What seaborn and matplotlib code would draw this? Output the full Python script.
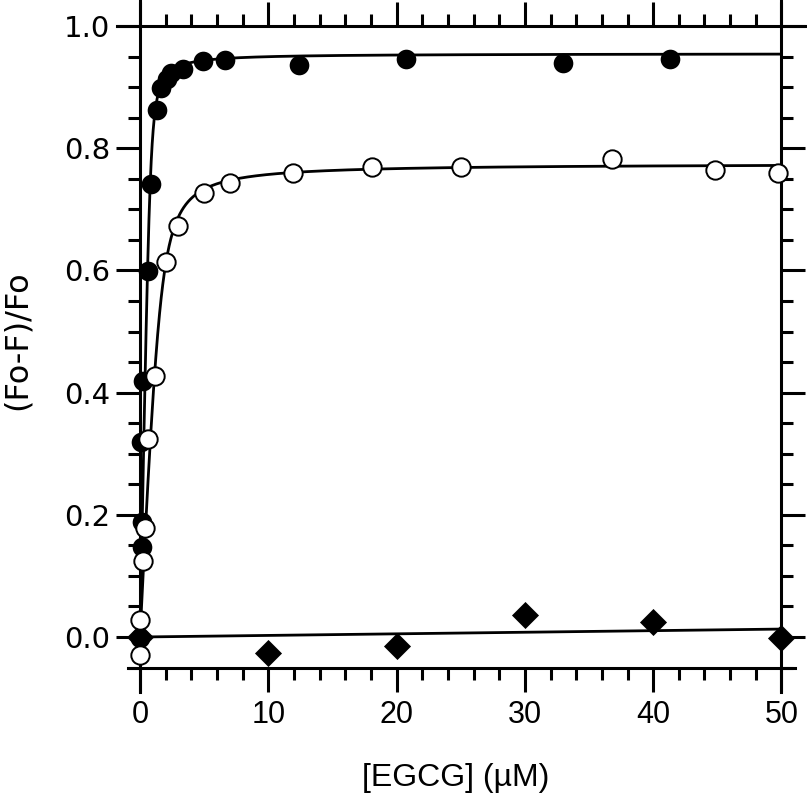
import numpy as np
import pandas as pd
import matplotlib.pyplot as plt
import seaborn as sns
from matplotlib.ticker import MultipleLocator

# data
filled_x = [0, 0.05, 0.13, 0.18, 0.26, 0.64, 0.83, 1.29, 1.63, 2.07, 2.4, 3.36,
            4.94, 6.59, 12.4, 20.7, 33.0, 41.3]
filled_y = [-0.002, 0.319, 0.189, 0.148, 0.419, 0.599, 0.742, 0.863, 0.898, 0.913,
            0.923, 0.93, 0.943, 0.945, 0.936, 0.946, 0.94, 0.946]

open_x = [0, 0, 0.26, 0.39, 0.64, 1.16, 1.99, 2.97, 4.99, 6.98, 11.94, 18.1,
          25.0, 36.8, 44.8, 49.7]
open_y = [-0.03, 0.028, 0.125, 0.178, 0.324, 0.427, 0.614, 0.673, 0.726, 0.743,
          0.760, 0.769, 0.769, 0.783, 0.764, 0.759]

diamond_x = [0, 10, 20, 30, 40, 50]
diamond_y = [0.0, -0.026, -0.015, 0.036, 0.024, -0.001]

# fitted curve parameters (fmax, kd, protein) and the linear fit for the diamonds
filled_fit = [0.955, 0.05, 0.8]
open_fit = [0.775, 0.2, 1.6]
diamond_fit = [0.0, 0.00026]

x_ticks = [0, 10, 20, 30, 40, 50]
y_ticks = [0.0, 0.2, 0.4, 0.6, 0.8, 1.0]


def tight_binding(x, fmax, kd, p):
    s = p + x + kd
    return fmax * (s - np.sqrt(s**2 - 4 * p * x)) / (2 * p)


x_fit = np.linspace(0, 50, 2001)
fits = pd.DataFrame({
    'x': x_fit,
    'filled': tight_binding(x_fit, *filled_fit),
    'open': tight_binding(x_fit, *open_fit),
    'diamond': diamond_fit[0] + diamond_fit[1] * x_fit,
})

sns.set_style('white')
plt.rcParams['font.family'] = ['DejaVu Sans']
plt.rcParams['text.color'] = 'black'

fig = plt.figure(figsize=(8.07, 7.99), dpi=100)
ax = fig.add_axes([117 / 807, (799 - 692) / 799, 690 / 807, 692 / 799])

for col in ['filled', 'open', 'diamond']:
    sns.lineplot(data=fits, x='x', y=col, color='black', linewidth=2.0,
                 ax=ax, zorder=3, clip_on=False)

sns.scatterplot(x=filled_x, y=filled_y, color='black', s=200, linewidth=0,
                ax=ax, zorder=5, clip_on=False)
sns.scatterplot(x=open_x, y=open_y, color='white', s=175, edgecolor='black',
                linewidth=1.4, ax=ax, zorder=6, clip_on=False)
sns.scatterplot(x=diamond_x, y=diamond_y, color='black', marker='D', s=190,
                linewidth=0, ax=ax, zorder=5, clip_on=False)

ax.set_xlim(-1.793, 51.99)
ax.set_ylim(-0.090, 1.0426)

ax.spines['left'].set_position(('data', 0))
ax.spines['right'].set_position(('data', 50))
ax.spines['bottom'].set_position(('data', -0.05))
ax.spines['top'].set_position(('data', 1.0))
ax.spines['bottom'].set_bounds(-0.935, 51.05)
for s in ax.spines.values():
    s.set_linewidth(2.2)
    s.set_color('black')
    s.set_visible(True)

ax.set_xticks(x_ticks)
ax.set_yticks(y_ticks)
ax.set_xticklabels([str(t) for t in x_ticks], family=['Liberation Sans', 'DejaVu Sans'],
                   fontsize=22)
ax.set_yticklabels([f'{t:.1f}' for t in y_ticks], fontsize=21)
ax.xaxis.set_minor_locator(MultipleLocator(2))
ax.yaxis.set_minor_locator(MultipleLocator(0.05))
ax.xaxis.set_ticks_position('both')
ax.yaxis.set_ticks_position('both')
ax.tick_params(which='major', direction='out', length=17, width=2.2,
               color='black', labelcolor='black')
ax.tick_params(which='minor', direction='out', length=8.6, width=2.2, color='black')
ax.tick_params(axis='x', which='major', pad=6.5)
ax.tick_params(axis='y', which='major', pad=4.3)
ax.set_xlabel('')
ax.set_ylabel('')

fig.text(456 / 807, 1 - 778 / 799, '[EGCG] (µM)', ha='center', va='center',
         fontsize=23, family=['Liberation Sans', 'DejaVu Sans'], color='black')
fig.text(17 / 807, 1 - 340 / 799, '(Fo-F)/Fo', ha='center', va='center',
         rotation=90, fontsize=23, color='black')

fig.savefig('out.png', dpi=100)
